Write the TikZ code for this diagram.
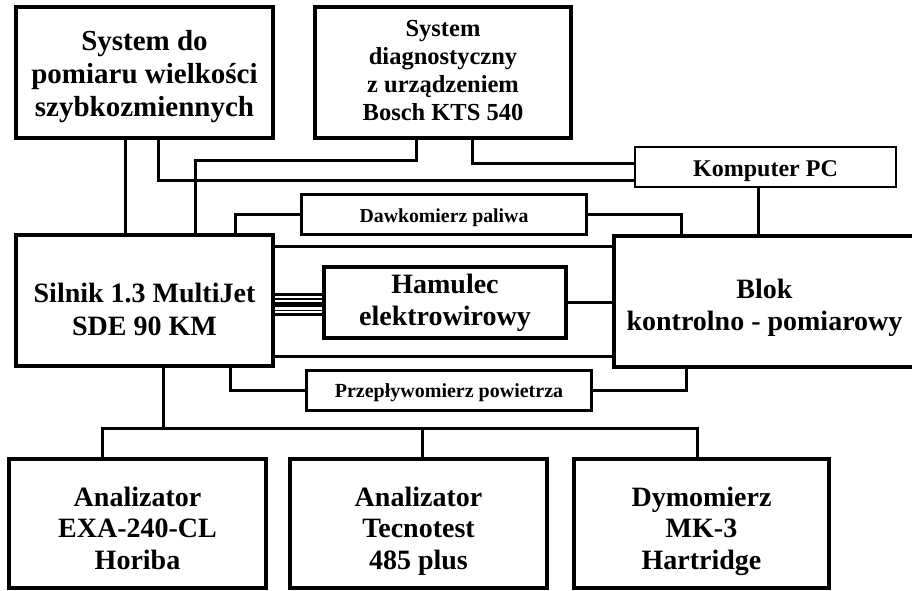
\documentclass[tikz,border=0pt]{standalone}
\usepackage{fontspec}
\setmainfont{Liberation Serif}
\begin{document}
\begin{tikzpicture}[x=1pt,y=-1pt,
  box/.style={draw, inner sep=0pt, line join=miter},
  bigbox/.style={box, line width=4pt},
  pcbox/.style={box, line width=2pt},
  smallbox/.style={box, line width=3pt},
  txt/.style={align=center, inner sep=0pt},
  bigtxt/.style={txt, font=\bfseries\fontsize{28}{32}\selectfont},
  conn/.style={line width=3pt},
  thinconn/.style={line width=2.2pt},
  thickconn/.style={line width=5pt}]
\useasboundingbox (0,0) rectangle (912,591);
% boxes
\node[bigbox, minimum width=257pt, minimum height=131pt] (b1) at (144.5,72.5) {};
\node[bigbox, minimum width=256pt, minimum height=131pt] (b2) at (443,72.5) {};
\node[pcbox, minimum width=261pt, minimum height=40pt] (pc) at (765.5,167) {};
\node[smallbox, minimum width=285pt, minimum height=40pt] (dawk) at (444,214.5) {};
\node[bigbox, minimum width=257pt, minimum height=131pt] (sil) at (144.5,300.5) {};
\node[bigbox, minimum width=301pt, minimum height=131pt] (blok) at (764.5,301.5) {};
\node[bigbox, minimum width=242pt, minimum height=71pt] (ham) at (445,302.5) {};
\node[smallbox, minimum width=285pt, minimum height=40pt] (prz) at (449,390.5) {};
\node[bigbox, minimum width=257pt, minimum height=129pt] (a1) at (137.5,523.5) {};
\node[bigbox, minimum width=257pt, minimum height=129pt] (a2) at (418.5,523.5) {};
\node[bigbox, minimum width=255pt, minimum height=129pt] (a3) at (701.5,523.5) {};
% texts
\node[txt, font=\bfseries\fontsize{29}{33.3}\selectfont] (b1t) at (144.5,76.8)
  {\strut System do\\pomiaru wielkości\\szybkozmiennych\strut};
\node[txt, font=\bfseries\fontsize{24.5}{28}\selectfont] (b2t) at (443,73.4)
  {\strut System\\diagnostyczny\\z urządzeniem\\Bosch KTS 540\strut};
\node[txt, font=\bfseries\fontsize{24}{27}\selectfont] (pct) at (765.5,171.3)
  {\strut Komputer PC\strut};
\node[txt, font=\bfseries\fontsize{19.8}{23}\selectfont] (dawkt) at (444,218.1)
  {\strut Dawkomierz paliwa\strut};
\node[bigtxt, font=\bfseries\fontsize{28}{33}\selectfont] (silt) at (144.5,312.6)
  {\strut Silnik 1.3 MultiJet\\SDE 90 KM\strut};
\node[bigtxt] (blokt) at (764.5,307.9)
  {\strut Blok\\kontrolno - pomiarowy\strut};
\node[bigtxt] (hamt) at (445,303.3)
  {\strut Hamulec\\elektrowirowy\strut};
\node[txt, font=\bfseries\fontsize{20}{23}\selectfont] (przt) at (449,393.1)
  {\strut Przepływomierz powietrza\strut};
\node[bigtxt, font=\bfseries\fontsize{28}{31.75}\selectfont] (a1t) at (137.5,531.4)
  {\strut Analizator\\EXA-240-CL\\Horiba\strut};
\node[bigtxt, font=\bfseries\fontsize{28}{31.75}\selectfont] (a2t) at (418.5,531.4)
  {\strut Analizator\\Tecnotest\\485 plus\strut};
\node[bigtxt, font=\bfseries\fontsize{28}{31.75}\selectfont] (a3t) at (701.5,531.4)
  {\strut Dymomierz\\MK-3\\Hartridge\strut};
% helper coordinates
\coordinate (c102) at (102,0);
\coordinate (c125) at (125,0);
\coordinate (c158) at (158,0);
\coordinate (c163) at (163,0);
\coordinate (c195) at (195,0);
\coordinate (c230) at (230,0);
\coordinate (c235) at (235,0);
\coordinate (c416) at (416.5,0);
\coordinate (c422) at (422,0);
\coordinate (c472) at (472,0);
\coordinate (c681) at (681,0);
\coordinate (c686) at (686,0);
\coordinate (c697) at (697,0);
\coordinate (c758) at (758,0);
\coordinate (r160) at (0,160);
\coordinate (r163) at (0,163);
\coordinate (r180) at (0,180);
\coordinate (r246) at (0,246);
\coordinate (r356) at (0,356);
\coordinate (r428) at (0,428);
\coordinate (r294) at (0,294.5);
\coordinate (r299) at (0,299);
\coordinate (r304) at (0,304.5);
\coordinate (r310) at (0,310.5);
\coordinate (r314) at (0,314.5);
% connectors
\draw[conn] (b1.south -| c125) -- (sil.north -| c125);
\draw[conn] (b1.south -| c158) |- (pc.west |- r180);
\draw[conn] (b2.south -| c416) |- (c195 |- r160) -- (sil.north -| c195);
\draw[conn] (b2.south -| c472) |- (pc.west |- r163);
\draw[conn] (dawk.west) -| (sil.north -| c235);
\draw[conn] (dawk.east) -| (blok.north -| c681);
\draw[conn] (pc.south -| c758) -- (blok.north -| c758);
\draw[conn] (sil.east |- r246) -- (blok.west |- r246);
\draw[conn] (sil.east |- r356) -- (blok.west |- r356);
\draw[conn] (ham.east) -- (blok.west |- ham.east);
\draw[thinconn] (sil.east |- r294) -- (ham.west |- r294);
\draw[line width=1.5pt] (sil.east |- r299) -- (ham.west |- r299);
\draw[thickconn] (sil.east |- r304) -- (ham.west |- r304);
\draw[line width=1.5pt] (sil.east |- r310) -- (ham.west |- r310);
\draw[thinconn] (sil.east |- r314) -- (ham.west |- r314);
\draw[conn] (prz.west) -| (sil.south -| c230);
\draw[conn] (prz.east) -| (blok.south -| c686);
\draw[conn] (sil.south -| c163) -- (c163 |- r428);
\draw[conn] (a1.north -| c102) -- (c102 |- r428) -- (c697 |- r428) -- (a3.north -| c697);
\draw[conn] (a2.north -| c422) -- (c422 |- r428);
\end{tikzpicture}
\end{document}
